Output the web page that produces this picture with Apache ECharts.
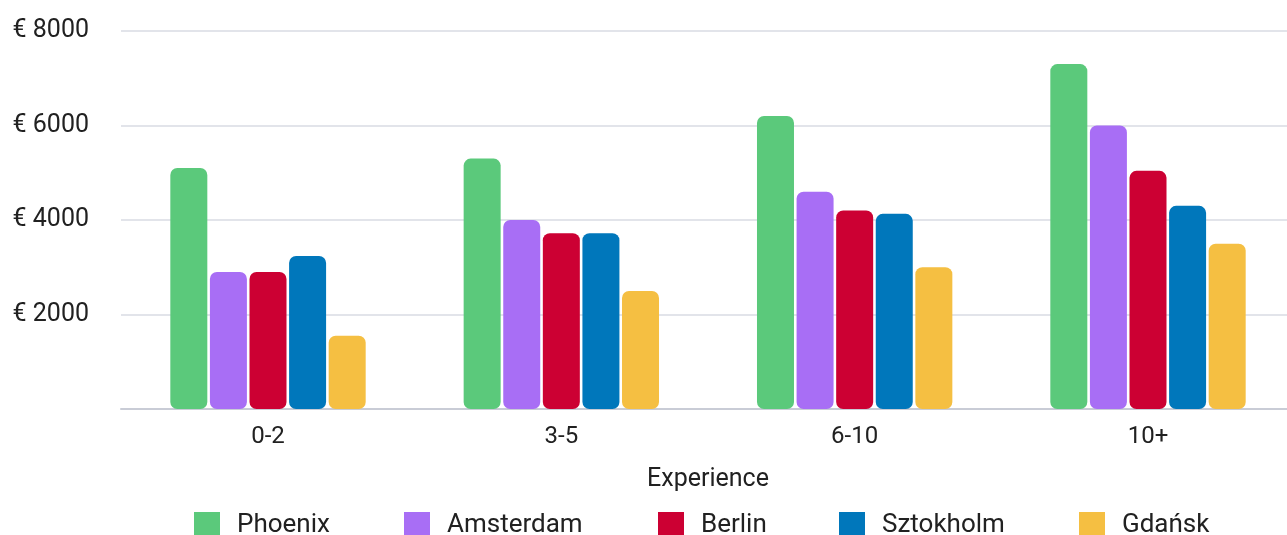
<!DOCTYPE html>
<html>
<head>
<meta charset="utf-8">
<script src="https://cdn.jsdelivr.net/npm/echarts@6/dist/echarts.min.js"></script>
<style>
html,body{margin:0;padding:0;background:#fff;}
#chart{width:1287px;height:535px;}
</style>
</head>
<body>
<div id="chart"></div>
<script>
const categories = ['0-2', '3-5', '6-10', '10+'];
const cities = ['Phoenix', 'Amsterdam', 'Berlin', 'Sztokholm', 'Gdańsk'];
const phoenix = [5100, 5300, 6200, 7300];
const amsterdam = [2900, 4000, 4600, 6000];
const berlin = [2900, 3720, 4200, 5040];
const sztokholm = [3240, 3720, 4130, 4300];
const gdansk = [1550, 2500, 3000, 3500];
const yTicks = [0, 2000, 4000, 6000, 8000];

const values = [phoenix, amsterdam, berlin, sztokholm, gdansk];
const colors = ['#5BC97B', '#A86EF5', '#CC0033', '#0077BB', '#F5BF42'];
const legendLeft = [194, 404, 658, 839, 1079];
const font = 'Roboto';
const yMin = yTicks[0], yMax = yTicks[yTicks.length - 1];

const chart = echarts.init(document.getElementById('chart'));
chart.setOption({
  animation: false,
  textStyle: { fontFamily: font },
  grid: [
    { left: 121, right: 0, top: 31, height: 378, containLabel: false },
    { left: 268, width: 880, top: 31, height: 378, containLabel: false }
  ],
  legend: cities.map((c, i) => ({
    data: [c],
    left: legendLeft[i],
    top: 512,
    padding: 0,
    itemWidth: 26,
    itemHeight: 26,
    icon: 'rect',
    selectedMode: false,
    textStyle: { fontFamily: font, fontSize: 26, color: '#212121', padding: [0, 0, 0, 12] }
  })),
  xAxis: [
    {
      gridIndex: 0,
      type: 'category',
      data: categories,
      axisLine: { lineStyle: { color: '#c9ccd6', width: 2 } },
      axisTick: { show: false },
      axisLabel: { show: false },
      splitLine: { show: false }
    },
    {
      gridIndex: 1,
      type: 'category',
      data: categories,
      boundaryGap: false,
      name: 'Experience',
      nameLocation: 'middle',
      nameGap: 58,
      nameTextStyle: { fontFamily: font, fontSize: 25, color: '#212121' },
      axisLine: { show: false },
      axisTick: { show: false },
      splitLine: { show: false },
      axisLabel: { fontFamily: font, fontSize: 24, color: '#212121', margin: 16 }
    }
  ],
  yAxis: [
    {
      gridIndex: 0,
      type: 'value',
      min: yMin,
      max: yMax,
      interval: 2000,
      axisLine: { show: false },
      axisTick: { show: false },
      splitLine: { lineStyle: { color: '#d9dbe3', width: 1.5 } },
      axisLabel: {
        fontFamily: font, fontSize: 25, color: '#212121', margin: 32,
        formatter: v => v === 0 ? '' : '€ ' + v
      }
    },
    {
      gridIndex: 1,
      type: 'value',
      min: yMin,
      max: yMax,
      interval: 2000,
      show: false,
      splitLine: { show: false }
    }
  ],
  series: cities.map((c, i) => ({
    name: c,
    type: 'bar',
    xAxisIndex: 1,
    yAxisIndex: 1,
    data: values[i],
    barWidth: 37,
    barGap: '7%',
    itemStyle: { color: colors[i], borderRadius: 7 }
  }))
});
</script>
</body>
</html>
